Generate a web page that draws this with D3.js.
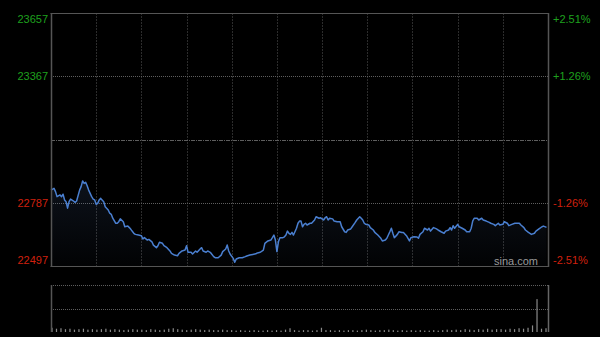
<!DOCTYPE html>
<html>
<head>
<meta charset="utf-8">
<script src="https://cdn.jsdelivr.net/npm/d3@7"></script>
<style>
  body { margin: 0; background: #000; }
  svg { display: block; }
</style>
</head>
<body>
<div id="chart"></div>
<script>
// Intraday index (HK session, minutes from 9:30, lunch break removed)
var prevClose = 23077;
var priceTicks = [23657, 23367, 22787, 22497];
var pctTicks = ["+2.51%", "+1.26%", "-1.26%", "-2.51%"];

var minutes = [0, 2, 3, 4, 6, 7, 8, 9, 10, 11, 12, 13, 15, 16, 17, 19, 20, 21, 22, 23,
  24, 25, 27, 28, 29, 30, 31, 32, 33, 35, 36, 38, 39, 40, 41, 43, 44, 45, 46, 48,
  49, 51, 52, 53, 55, 56, 58, 60, 61, 62, 64, 65, 67, 68, 70, 71, 72, 74, 75, 77,
  79, 80, 82, 84, 85, 87, 89, 90, 91, 93, 94, 96, 97, 99, 100, 101, 103, 104, 106, 108,
  109, 111, 113, 114, 116, 117, 118, 119, 121, 122, 123, 125, 127, 129, 130, 132, 134, 136, 137, 139,
  141, 142, 144, 146, 147, 148, 149, 150, 151, 152, 154, 155, 156, 157, 158, 159, 160, 161, 163, 164,
  165, 166, 167, 168, 169, 170, 172, 173, 175, 176, 178, 179, 181, 182, 183, 184, 185, 187, 188, 190,
  192, 193, 195, 196, 197, 199, 200, 202, 203, 205, 206, 207, 208, 209, 211, 212, 214, 215, 217, 219,
  220, 222, 223, 225, 226, 227, 228, 230, 231, 233, 234, 236, 238, 239, 241, 243, 244, 245, 247, 248,
  250, 251, 252, 254, 256, 257, 259, 261, 262, 264, 265, 266, 267, 268, 270, 271, 273, 275, 276, 278,
  279, 280, 281, 283, 284, 286, 287, 289, 291, 292, 294, 295, 297, 298, 300, 301, 303, 304, 306, 308,
  309, 311, 312, 314, 315, 317, 319, 321, 322, 324, 326, 327, 329];

var prices = [22845, 22853, 22838, 22815, 22823, 22815, 22826, 22800, 22792, 22762, 22792, 22804, 22795, 22789, 22795, 22845, 22861, 22887, 22876, 22881,
  22865, 22845, 22815, 22804, 22800, 22780, 22784, 22800, 22807, 22792, 22769, 22754, 22739, 22734, 22716, 22693, 22693, 22700, 22713, 22700,
  22677, 22680, 22673, 22665, 22647, 22642, 22639, 22636, 22621, 22627, 22616, 22619, 22608, 22593, 22581, 22590, 22606, 22601, 22590, 22581,
  22566, 22555, 22547, 22544, 22555, 22566, 22570, 22590, 22560, 22560, 22552, 22566, 22560, 22575, 22581, 22566, 22560, 22566, 22558, 22540,
  22535, 22535, 22547, 22563, 22575, 22593, 22566, 22551, 22532, 22514, 22529, 22535, 22535, 22540, 22543, 22547, 22550, 22553, 22557, 22560,
  22570, 22601, 22612, 22616, 22627, 22639, 22616, 22563, 22608, 22627, 22627, 22631, 22639, 22657, 22647, 22642, 22651, 22639, 22670, 22693,
  22703, 22703, 22677, 22688, 22693, 22685, 22693, 22693, 22708, 22723, 22716, 22718, 22708, 22718, 22723, 22708, 22716, 22713, 22703, 22700,
  22700, 22677, 22654, 22651, 22662, 22667, 22677, 22697, 22708, 22723, 22716, 22708, 22693, 22688, 22685, 22673, 22662, 22651, 22639, 22624,
  22612, 22616, 22624, 22654, 22670, 22647, 22627, 22642, 22654, 22651, 22651, 22636, 22612, 22627, 22631, 22630, 22624, 22642, 22654, 22670,
  22662, 22670, 22657, 22673, 22667, 22662, 22654, 22647, 22657, 22662, 22673, 22662, 22682, 22670, 22688, 22677, 22670, 22662, 22654, 22654,
  22670, 22703, 22716, 22716, 22708, 22716, 22708, 22703, 22697, 22693, 22688, 22682, 22693, 22685, 22688, 22700, 22693, 22682, 22688, 22693,
  22693, 22693, 22685, 22673, 22662, 22651, 22642, 22647, 22657, 22667, 22677, 22680, 22674];

// traded volume, one bar every three minutes (relative units)
var volumes = [9, 7, 8, 6, 7, 5, 6, 7, 5, 6, 5, 6, 7, 5, 6, 5, 4, 5, 6, 5,
  5, 4, 6, 5, 4, 5, 7, 8, 6, 5, 4, 5, 6, 5, 4, 5, 4, 4, 5, 4,
  4, 3, 4, 3, 3, 4, 3, 3, 4, 3, 4, 3, 5, 8, 4, 3, 4, 4, 3, 4,
  9, 4, 4, 3, 4, 3, 4, 4, 3, 4, 5, 4, 3, 4, 4, 5, 4, 3, 4, 3,
  4, 3, 4, 3, 3, 4, 3, 4, 5, 4, 5, 4, 6, 5, 4, 6, 5, 7, 5, 6,
  6, 5, 7, 6, 8, 7, 9, 14, 70, 7, 8];

var svgWidth = 600;
var svgHeight = 337;

// price panel
var pLeft = 51, pRight = 548, pTop = 13, pBottom = 266;
// volume panel
var vTop = 285, vBottom = 332;

var svg = d3.select("#chart")
  .append("svg")
  .attr("width", svgWidth)
  .attr("height", svgHeight)
  .style("background", "#000");

var xScale = d3.scaleLinear().domain([0, 330]).range([pLeft, pRight]);
var yScale = d3.scaleLinear().domain([22497, 23657]).range([pBottom, pTop]);

// gradient for the area under the line
var defs = svg.append("defs");
var grad = defs.append("linearGradient")
  .attr("id", "areaGrad")
  .attr("x1", 0).attr("y1", 0).attr("x2", 0).attr("y2", 1);
grad.append("stop").attr("offset", "0%").attr("stop-color", "#5a80c0").attr("stop-opacity", 0.14);
grad.append("stop").attr("offset", "100%").attr("stop-color", "#5a80c0").attr("stop-opacity", 0.02);

// vertical grid lines (every 30 minutes)
var gridX = d3.range(30, 330, 30);
svg.append("g")
  .selectAll("line")
  .data(gridX)
  .enter()
  .append("line")
  .attr("x1", d => Math.round(xScale(d)) + 0.5)
  .attr("x2", d => Math.round(xScale(d)) + 0.5)
  .attr("y1", pTop)
  .attr("y2", pBottom)
  .attr("stroke", "#2c2c2c")
  .attr("stroke-dasharray", "2,1");

// horizontal grid lines
svg.append("g")
  .selectAll("line")
  .data([23367, 22787])
  .enter()
  .append("line")
  .attr("x1", pLeft)
  .attr("x2", pRight)
  .attr("y1", d => Math.round(yScale(d)) + 0.5)
  .attr("y2", d => Math.round(yScale(d)) + 0.5)
  .attr("stroke", "#5e5e5e")
  .attr("stroke-dasharray", "1,1");

svg.append("line")
  .attr("x1", pLeft)
  .attr("x2", pRight)
  .attr("y1", Math.round(yScale(prevClose)) + 0.5)
  .attr("y2", Math.round(yScale(prevClose)) + 0.5)
  .attr("stroke", "#5e5e5e")
  .attr("stroke-dasharray", "4,1,1,1");

// the area and line
var series = minutes.map((m, i) => ({ m: m, p: prices[i] }));

var area = d3.area()
  .x(d => xScale(d.m))
  .y0(pBottom)
  .y1(d => yScale(d.p));

svg.append("path")
  .datum(series)
  .attr("d", area)
  .attr("fill", "url(#areaGrad)");

var line = d3.line()
  .x(d => xScale(d.m))
  .y(d => yScale(d.p));

svg.append("path")
  .datum(series)
  .attr("d", line)
  .attr("fill", "none")
  .attr("stroke", "#4a7fd0")
  .attr("stroke-width", 1.5)
  .attr("stroke-linejoin", "round");

// frame
svg.append("line").attr("x1", pLeft - 0.5).attr("x2", pRight + 0.5).attr("y1", pTop + 0.5).attr("y2", pTop + 0.5).attr("stroke", "#555");
svg.append("line").attr("x1", pLeft - 0.5).attr("x2", pRight + 0.5).attr("y1", pBottom + 0.5).attr("y2", pBottom + 0.5).attr("stroke", "#555");
svg.append("line").attr("x1", pLeft + 0.5).attr("x2", pLeft + 0.5).attr("y1", pTop).attr("y2", pBottom + 1).attr("stroke", "#555").attr("stroke-width", 1.5);
svg.append("line").attr("x1", pRight + 0.5).attr("x2", pRight + 0.5).attr("y1", pTop).attr("y2", pBottom + 1).attr("stroke", "#555").attr("stroke-width", 1.5);

// watermark
svg.append("text")
  .attr("x", 538)
  .attr("y", 265)
  .attr("text-anchor", "end")
  .attr("font-family", "Liberation Sans, Arial, sans-serif")
  .attr("font-size", "11px")
  .attr("fill", "#9a9a9a")
  .text("sina.com");

// axis labels
var labelY = [19, 76, 203, 260];
var labelColor = d => d > prevClose ? "#1ea01e" : "#d0200e";

svg.append("g")
  .selectAll("text")
  .data(priceTicks)
  .enter()
  .append("text")
  .attr("x", 48)
  .attr("y", (d, i) => labelY[i])
  .attr("dy", "0.35em")
  .attr("text-anchor", "end")
  .attr("font-family", "Liberation Sans, Arial, sans-serif")
  .attr("font-size", "11px")
  .attr("fill", labelColor)
  .text(d => d);

svg.append("g")
  .selectAll("text")
  .data(pctTicks)
  .enter()
  .append("text")
  .attr("x", 553)
  .attr("y", (d, i) => labelY[i])
  .attr("dy", "0.35em")
  .attr("text-anchor", "start")
  .attr("font-family", "Liberation Sans, Arial, sans-serif")
  .attr("font-size", "11px")
  .attr("fill", (d, i) => labelColor(priceTicks[i]))
  .text(d => d);

// volume panel
var vx = d3.scaleLinear().domain([0, volumes.length - 1]).range([pLeft + 1, pRight - 2]);
var vy = d3.scaleLinear().domain([0, 100]).range([vBottom, vTop]);

svg.append("g")
  .selectAll("line")
  .data([100, 50])
  .enter()
  .append("line")
  .attr("x1", pLeft)
  .attr("x2", pRight)
  .attr("y1", d => Math.round(vy(d)) + 0.5)
  .attr("y2", d => Math.round(vy(d)) + 0.5)
  .attr("stroke", "#5e5e5e")
  .attr("stroke-dasharray", "1,1");

svg.append("g")
  .selectAll("rect")
  .data(volumes)
  .enter()
  .append("rect")
  .attr("x", (d, i) => vx(i) - 0.6)
  .attr("y", d => vy(d))
  .attr("width", 1.2)
  .attr("height", d => vBottom - vy(d))
  .attr("fill", "#8a8a8a");

svg.append("line").attr("x1", pLeft + 0.5).attr("x2", pLeft + 0.5).attr("y1", vTop).attr("y2", vBottom).attr("stroke", "#555").attr("stroke-width", 1.5);
svg.append("line").attr("x1", pRight + 0.5).attr("x2", pRight + 0.5).attr("y1", vTop).attr("y2", vBottom).attr("stroke", "#666").attr("stroke-width", 1.5);
</script>
</body>
</html>
